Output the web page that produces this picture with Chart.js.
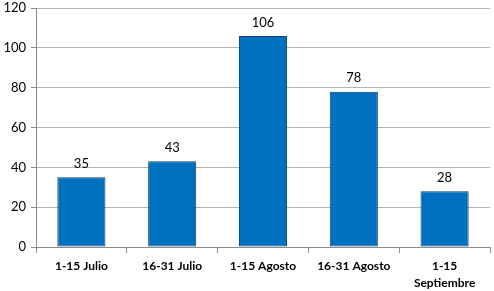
<!DOCTYPE html>
<html>
<head>
<meta charset="utf-8">
<script src="https://cdn.jsdelivr.net/npm/chart.js@4/dist/chart.umd.min.js"></script>
<style>
  html, body { margin: 0; padding: 0; background: #fff; }
  #wrap { width: 494px; height: 291px; }
</style>
</head>
<body>
<div id="wrap"><canvas id="chart" width="494" height="291"></canvas></div>
<script>
const categories = ['1-15 Julio', '16-31 Julio', '1-15 Agosto', '16-31 Agosto', ['1-15', 'Septiembre']];
const values = [35, 43, 106, 78, 28];
const yTicks = [0, 20, 40, 60, 80, 100, 120];

// draw the value above each bar
const valueLabels = {
    id: 'valueLabels',
    afterDatasetsDraw(chart) {
        const ctx = chart.ctx;
        const meta = chart.getDatasetMeta(0);
        ctx.save();
        ctx.fillStyle = '#000';
        ctx.font = '13px Lato, sans-serif';
        ctx.textAlign = 'center';
        ctx.textBaseline = 'bottom';
        meta.data.forEach((bar, i) => {
            ctx.fillText(values[i], bar.x, bar.y - 7);
        });
        ctx.restore();
    }
};

new Chart(document.getElementById('chart'), {
    type: 'bar',
    data: {
        labels: categories,
        datasets: [{
            data: values,
            backgroundColor: '#0070C0',
            borderColor: '#0E3F6B',
            borderWidth: 1,
            borderSkipped: false,
            categoryPercentage: 1,
            barPercentage: 0.53
        }]
    },
    options: {
        responsive: false,
        animation: false,
        layout: { padding: { top: 8, right: 4, left: 0, bottom: 0 } },
        plugins: {
            legend: { display: false },
            tooltip: { enabled: false }
        },
        scales: {
            x: {
                afterFit(scale) { scale.height = 44; },
                grid: {
                    offset: true,
                    drawOnChartArea: false,
                    drawTicks: true,
                    tickLength: 6,
                    color: '#8c8c8c'
                },
                border: { color: '#8c8c8c' },
                ticks: {
                    color: '#000',
                    font: { family: 'Lato, sans-serif', size: 12, weight: 'bold', lineHeight: 1.4 },
                    padding: 5,
                    maxRotation: 0,
                    autoSkip: false
                }
            },
            y: {
                min: 0,
                max: 120,
                afterFit(scale) { scale.width = 36; scale.paddingTop = 0; scale.paddingBottom = 0; },
                afterBuildTicks(scale) { scale.ticks = yTicks.map(v => ({ value: v })); },
                grid: {
                    color: '#b4b4b4',
                    tickLength: 5,
                    tickColor: '#8c8c8c'
                },
                border: { color: '#8c8c8c' },
                ticks: {
                    color: '#000',
                    font: { family: 'Lato, sans-serif', size: 13 },
                    padding: 5
                }
            }
        }
    },
    plugins: [valueLabels]
});
</script>
</body>
</html>
